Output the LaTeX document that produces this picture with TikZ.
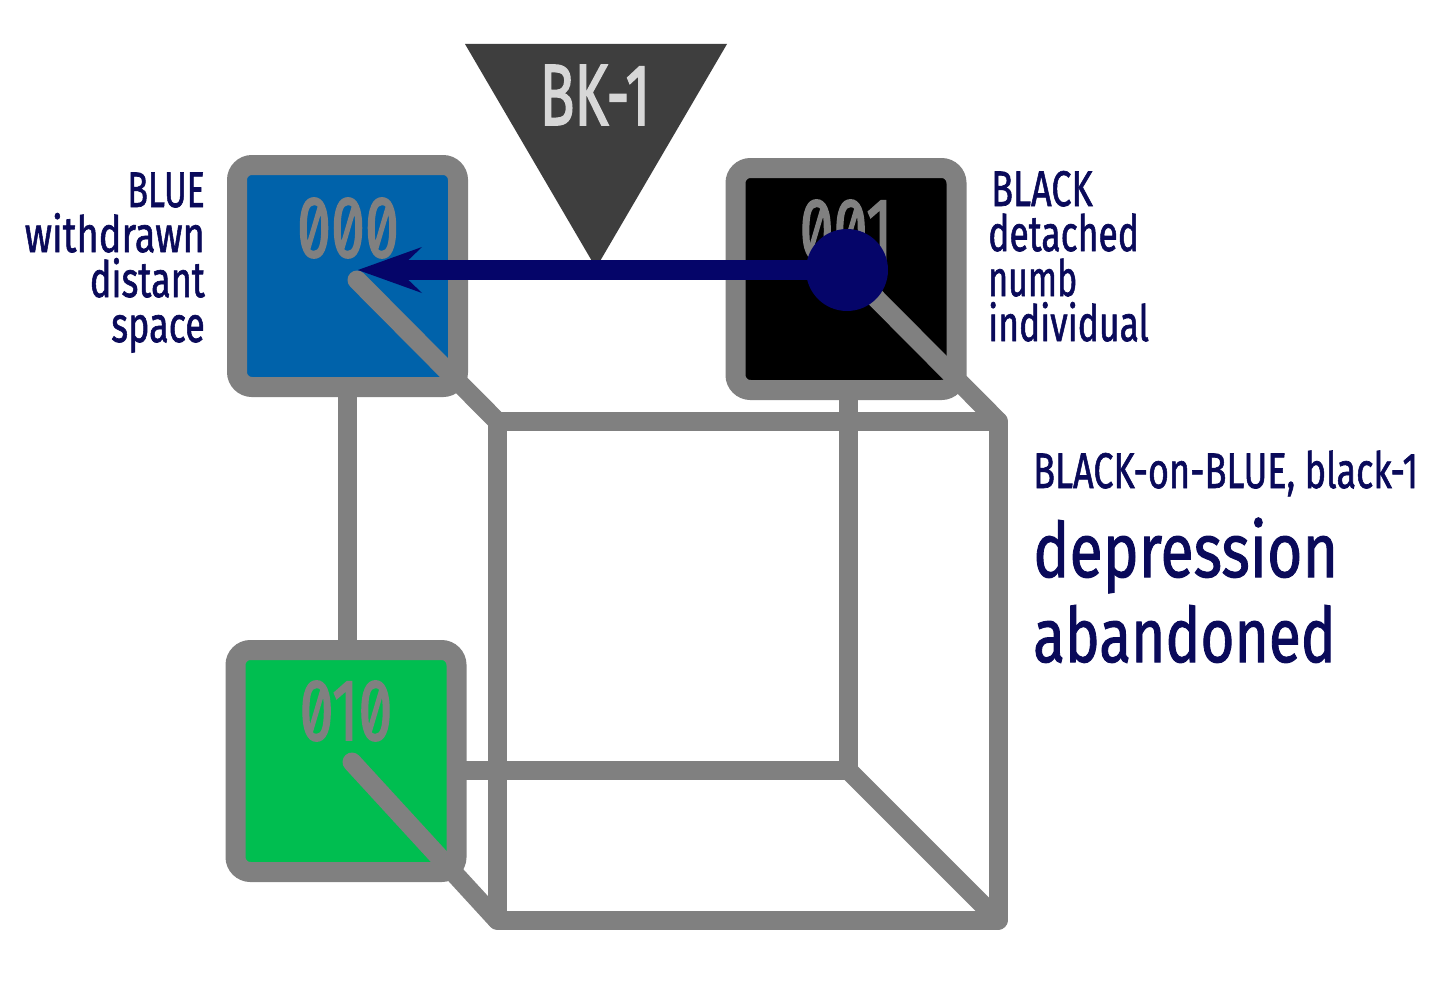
\documentclass[tikz,border=0pt]{standalone}
\usepackage{fontspec}
\usepackage{graphicx}
\setmainfont{Fira Sans}[FakeBold=1.4]
\newfontfamily\zerofont{Fira Sans}[Numbers=SlashedZero,FakeBold=2]
\newfontfamily\bkfont{Fira Sans}[FakeBold=2]
\usetikzlibrary{arrows.meta}
\definecolor{cubegray}{RGB}{128,128,128}
\definecolor{navytext}{RGB}{10,10,90}
\definecolor{navyarrow}{RGB}{5,5,105}
\definecolor{boxblue}{RGB}{0,98,170}
\definecolor{boxgreen}{RGB}{0,190,80}
\definecolor{tridark}{RGB}{62,62,62}
\definecolor{trilight}{RGB}{215,215,215}
\newcommand\hs[2]{\scalebox{#1}[1]{#2}}
\begin{document}
\begin{tikzpicture}[x=1pt,y=-1pt,
 edge/.style={draw=cubegray,line width=19pt,line cap=round,line join=round},
 box/.style={draw=cubegray,line width=20pt,rounded corners=15pt,minimum width=221pt,minimum height=222pt,inner sep=0pt,outer sep=0pt},
 digits/.style={text=cubegray,inner sep=0pt,font=\zerofont\fontsize{87}{87}\selectfont},
 lbl/.style={text=navytext,inner sep=0pt,font=\fontsize{50}{50}\selectfont},
 big/.style={text=navytext,inner sep=0pt,font=\fontsize{76}{76}\selectfont}]

\path[use as bounding box] (0,0) rectangle (1456,998);
\fill[white] (0,0) rectangle (1456,998);

% cube vertices
\coordinate (A) at (347,270);
\coordinate (B) at (848,270);
\coordinate (C) at (347,770);
\coordinate (D) at (848,770);
\coordinate (E) at (497,421);
\coordinate (F) at (998,421);
\coordinate (G) at (497,920);
\coordinate (H) at (998,920);

\draw[edge] (A) -- (C) -- (D) -- (B);
\draw[edge] (E) -- (F) -- (H) -- (G) -- cycle;
\draw[edge] (D) -- (H);

% triangle
\coordinate (T1) at (465,44);
\coordinate (T2) at (727,44);
\coordinate (T3) at (596,268);
\fill[tridark] (T1) -- (T2) -- (T3) -- cycle;
\node[text=trilight,inner sep=0pt,anchor=base,font=\bkfont\fontsize{87}{87}\selectfont] (bk) at (595,125) {\hs{0.66}{BK-1}};

% boxes
\node[box,fill=boxblue] (b000) at (347.5,276) {};
\node[box,fill=black] (b001) at (846,279) {};
\node[box,fill=boxgreen] (b010) at (346,761) {};

\node[digits,anchor=base] (l000) at (348,257) {\hs{0.7}{000}};
\node[digits,anchor=base] (l001) at (846,259) {\hs{0.7}{001}};
\node[digits,anchor=base] (l010) at (346,740) {\hs{0.7}{010}};

% diagonals
\coordinate (s000) at (357,280);
\coordinate (s010) at (352,762);
\draw[edge] (s000) -- (E);
\draw[edge] (B) -- (F);
\draw[edge] (s010) -- (G);

% arrow
\node[circle,fill=navyarrow,minimum size=82pt,inner sep=0pt] (dot) at (847,270) {};
\coordinate (tip) at (358,270);
\draw[line width=20pt,navyarrow,-{Stealth[length=64pt,width=46pt,inset=24pt,line width=0pt]}] (dot.center) -- (tip);

% left labels
\node[lbl,anchor=base east] (t1) at (205,207) {\hs{0.68}{BLUE}};
\node[lbl,anchor=base east] (t2) at (205,252) {\hs{0.76}{withdrawn}};
\node[lbl,anchor=base east] (t3) at (205,297) {\hs{0.72}{distant}};
\node[lbl,anchor=base east] (t4) at (205,342) {\hs{0.72}{space}};

% right labels
\node[lbl,anchor=base west] (r1) at (991,206) {\hs{0.72}{BLACK}};
\node[lbl,anchor=base west] (r2) at (988,251) {\hs{0.71}{detached}};
\node[lbl,anchor=base west] (r3) at (988,296) {\hs{0.68}{numb}};
\node[lbl,anchor=base west] (r4) at (988,341) {\hs{0.71}{individual}};

% right big text
\node[lbl,anchor=base west] (h1) at (1033,488) {\hs{0.72}{BLACK-on-BLUE, black-1}};
\node[big,anchor=base west] (h2) at (1033,577) {\hs{0.8}{depression}};
\node[big,anchor=base west] (h3) at (1033,662) {\hs{0.77}{abandoned}};
\end{tikzpicture}
\end{document}
